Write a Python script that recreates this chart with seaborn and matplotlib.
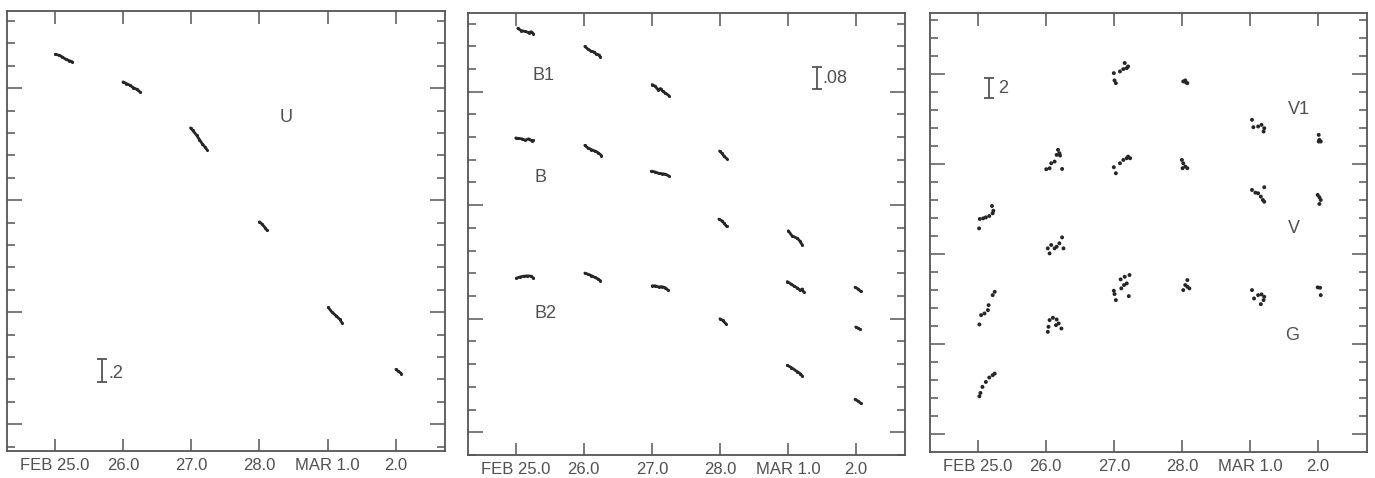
import numpy as np
import pandas as pd
import matplotlib
matplotlib.use("Agg")
import matplotlib.pyplot as plt
import seaborn as sns
from matplotlib.ticker import FixedLocator, MultipleLocator, NullLocator

# ---------------- data ----------------
day_ticks = [25, 26, 27, 28, 29, 30]
day_labels = ["FEB 25.0", "26.0", "27.0", "28.0", "MAR 1.0", "2.0"]

# Panel 1 : U
U_day = [25.01, 25.06, 25.11, 25.16, 25.21, 25.26,
         26.00, 26.05, 26.10, 26.15, 26.20, 26.25,
         26.99, 27.02, 27.08, 27.12, 27.16, 27.20, 27.23,
         28.00, 28.04, 28.08, 28.11,
         29.01, 29.06, 29.13, 29.18, 29.21,
         30.00, 30.03, 30.08]
U_mag = [0.696, 0.705, 0.720, 0.741, 0.753, 0.765,
         0.943, 0.958, 0.973, 0.994, 1.009, 1.033,
         1.354, 1.375, 1.420, 1.458, 1.494, 1.524, 1.548,
         2.193, 2.214, 2.244, 2.268,
         2.958, 2.997, 3.036, 3.065, 3.095,
         3.512, 3.524, 3.548]

# Panel 2 : B1, B, B2
B1_day = [25.03, 25.08, 25.14, 25.19, 25.23, 25.26,
          26.015, 26.06, 26.11, 26.15, 26.18, 26.22, 26.245,
          27.005, 27.05, 27.09, 27.13, 27.16, 27.20, 27.25,
          27.995, 28.03, 28.06, 28.10,
          29.005, 29.06, 29.14, 29.17, 29.21,
          29.985, 30.03, 30.07]
B1_mag = [0.177, 0.185, 0.188, 0.192, 0.189, 0.196,
          0.241, 0.250, 0.258, 0.260, 0.267, 0.270, 0.278,
          0.375, 0.381, 0.393, 0.389, 0.399, 0.405, 0.414,
          0.609, 0.617, 0.627, 0.636,
          0.890, 0.908, 0.917, 0.925, 0.940,
          1.089, 1.095, 1.104]
B_day = [25.00, 25.04, 25.09, 25.14, 25.19, 25.24, 25.26,
         26.015, 26.06, 26.11, 26.16, 26.21, 26.26,
         26.995, 27.05, 27.10, 27.15, 27.20, 27.25,
         27.985, 28.03, 28.06, 28.10,
         28.99, 29.04, 29.09, 29.14, 29.18, 29.21, 29.23,
         29.995, 30.03, 30.06]
B_mag = [0.563, 0.565, 0.566, 0.571, 0.566, 0.574, 0.572,
         0.589, 0.598, 0.604, 0.609, 0.615, 0.625,
         0.680, 0.683, 0.688, 0.689, 0.691, 0.697,
         0.849, 0.855, 0.863, 0.875,
         1.069, 1.077, 1.085, 1.092, 1.100, 1.095, 1.106,
         1.229, 1.233, 1.237]
B2_day = [25.01, 25.06, 25.12, 25.17, 25.23, 25.26,
          26.015, 26.06, 26.11, 26.16, 26.21, 26.245,
          27.005, 27.05, 27.10, 27.15, 27.20, 27.24,
          28.00, 28.04, 28.09,
          28.99, 29.05, 29.14, 29.18, 29.21,
          29.985, 30.03, 30.07]
B2_mag = [1.057, 1.053, 1.050, 1.049, 1.050, 1.057,
          1.039, 1.043, 1.048, 1.054, 1.060, 1.066,
          1.084, 1.084, 1.088, 1.087, 1.091, 1.100,
          1.200, 1.206, 1.218,
          1.364, 1.372, 1.387, 1.393, 1.402,
          1.484, 1.490, 1.498]

# Panel 3 : V1, V, G (individual points)
V1_day = [25.02, 25.03, 25.08, 25.12, 25.17, 25.22, 25.21, 25.23,
          26.007, 26.056, 26.08, 26.13, 26.16, 26.20, 26.18, 26.21, 26.24,
          27.03, 27.01, 27.00, 27.09, 27.14, 27.16, 27.19, 27.21,
          28.02, 28.05, 28.08, 28.06,
          29.03, 29.05, 29.12, 29.17, 29.21, 29.20,
          30.01, 30.02, 30.04, 30.01]
V1_mag = [2.715, 2.611, 2.604, 2.593, 2.578, 2.548, 2.467, 2.519,
          2.059, 2.048, 1.993, 1.974, 1.900, 1.881, 1.844, 1.907, 2.056,
          1.104, 1.074, 0.993, 0.974, 0.948, 0.881, 0.937, 0.919,
          1.085, 1.074, 1.104, 1.096,
          1.511, 1.593, 1.585, 1.567, 1.604, 1.641,
          1.678, 1.733, 1.752, 1.752]
V_day = [25.025, 25.05, 25.10, 25.15, 25.16, 25.22, 25.25,
         26.056, 26.03, 26.08, 26.13, 26.16, 26.20, 26.24, 26.26,
         27.00, 27.03, 27.09, 27.14, 27.19, 27.21, 27.24,
         28.00, 28.02, 28.05, 28.08, 28.01,
         29.03, 29.08, 29.12, 29.21, 29.16, 29.19, 29.21,
         29.995, 30.02, 30.04, 30.02]
V_mag = [3.781, 3.678, 3.659, 3.622, 3.567, 3.456, 3.419,
         2.993, 2.937, 2.900, 2.937, 2.919, 2.881, 2.815, 2.937,
         2.037, 2.104, 1.993, 1.956, 1.937, 1.919, 1.937,
         1.956, 1.993, 2.030, 2.048, 2.048,
         2.289, 2.319, 2.326, 2.259, 2.363, 2.400, 2.419,
         2.344, 2.370, 2.400, 2.444]
G_day = [25.025, 25.04, 25.07, 25.12, 25.17, 25.22, 25.25,
         26.03, 26.04, 26.056, 26.105, 26.16, 26.19, 26.23, 26.15,
         27.00, 27.01, 27.03, 27.10, 27.16, 27.23, 27.15, 27.11, 27.19, 27.22,
         28.02, 28.05, 28.08, 28.08, 28.11,
         29.03, 29.06, 29.12, 29.17, 29.21, 29.16, 29.20,
         29.995, 30.03, 30.04]
G_mag = [4.578, 4.541, 4.474, 4.419, 4.370, 4.344, 4.326,
         3.863, 3.807, 3.733, 3.707, 3.726, 3.770, 3.826, 3.789,
         3.407, 3.444, 3.511, 3.281, 3.252, 3.233, 3.344, 3.381, 3.326, 3.467,
         3.400, 3.344, 3.289, 3.363, 3.381,
         3.400, 3.493, 3.456, 3.448, 3.474, 3.556, 3.511,
         3.370, 3.374, 3.456]

# ---------------- style ----------------
sns.set_theme(style="white")
plt.rcParams["font.family"] = ["Liberation Sans Narrow", "Liberation Sans", "DejaVu Sans"]

INK = "#262626"
FRAME = "#555555"
TXT = "#505050"


def frame(df_series):
    parts = []
    for name, d, m in df_series:
        part = pd.DataFrame({"day": d, "mag": m})
        part["series"] = name
        part["seg"] = name + "_" + np.round(part["day"]).astype(int).astype(str)
        parts.append(part)
    return pd.concat(parts, ignore_index=True)


df1 = frame([("U", U_day, U_mag)])
df2 = frame([("B1", B1_day, B1_mag), ("B", B_day, B_mag), ("B2", B2_day, B2_mag)])
df3 = frame([("V1", V1_day, V1_mag), ("V", V_day, V_mag), ("G", G_day, G_mag)])

fig = plt.figure(figsize=(13.75, 4.78), dpi=100)
ax1 = fig.add_axes([0.0051, 0.0565, 0.3185, 0.9205])
ax2 = fig.add_axes([0.3404, 0.0481, 0.3178, 0.9247])
ax3 = fig.add_axes([0.6764, 0.0544, 0.3178, 0.9184])

panels = [
    (ax1, (4.24, 0.31), 0.2, [1.0, 2.0, 3.0, 4.0]),
    (ax2, (1.68, 0.123), 0.08, [0.4, 0.8, 1.2, 1.6]),
    (ax3, (5.196, 0.326), 0.2, [1.0, 2.0, 3.0, 4.0, 5.0]),
]

for ax, df in [(ax1, df1), (ax2, df2)]:
    sns.lineplot(data=df, x="day", y="mag", units="seg", estimator=None, sort=False,
                 color=INK, lw=2.0, marker="o", markersize=2.2, markeredgewidth=0,
                 ax=ax, legend=False)
sns.scatterplot(data=df3, x="day", y="mag", color=INK, s=8, edgecolor="none",
                ax=ax3, legend=False)

for ax, ylim, minor, majors in panels:
    ax.set_xlim(24.3, 30.72)
    ax.set_ylim(*ylim)
    ax.xaxis.set_major_locator(FixedLocator(day_ticks))
    ax.xaxis.set_minor_locator(NullLocator())
    ax.set_xticklabels(day_labels)
    ax.yaxis.set_major_locator(FixedLocator(majors))
    ax.yaxis.set_minor_locator(MultipleLocator(minor))
    ax.tick_params(axis="x", which="major", direction="in", top=True, bottom=True,
                   length=9, width=1.1, color=FRAME, labelsize=12, labelcolor=TXT, pad=5)
    ax.tick_params(axis="y", which="major", direction="in", left=True, right=True,
                   length=11, width=1.1, color=FRAME, labelleft=False)
    ax.tick_params(axis="y", which="minor", direction="in", left=True, right=True,
                   length=6, width=1.1, color=FRAME)
    ax.set_xlabel("")
    ax.set_ylabel("")
    for sp in ax.spines.values():
        sp.set_visible(True)
        sp.set_color(FRAME)
        sp.set_linewidth(1.3)

# labels and scale bars
labels1 = [("U", 28.39, 1.26)]
labels2 = [("B1", 25.41, 0.344), ("B", 25.36, 0.703), ("B2", 25.44, 1.182)]
labels3 = [("V1", 29.715, 1.40), ("V", 29.64, 2.715), ("G", 29.62, 3.90)]
bars = [(ax1, 25.69, 3.52, 0.10, ".2", 25.90, 3.55),
        (ax2, 29.43, 0.352, 0.04, ".08", 29.69, 0.352),
        (ax3, 25.17, 1.16, 0.11, "2", 25.38, 1.16)]

for ax, labs in [(ax1, labels1), (ax2, labels2), (ax3, labels3)]:
    for s, x, y in labs:
        ax.text(x, y, s, ha="center", va="center", fontsize=13, color=TXT)

for ax, bx, by, bh, s, tx, ty in bars:
    ax.errorbar([bx], [by], yerr=[bh], fmt="none", ecolor=FRAME, elinewidth=1.3,
                capsize=3.5, capthick=1.3)
    ax.text(tx, ty, s, ha="center", va="center", fontsize=13, color=TXT)

fig.savefig("out.png", dpi=100, facecolor="white")
